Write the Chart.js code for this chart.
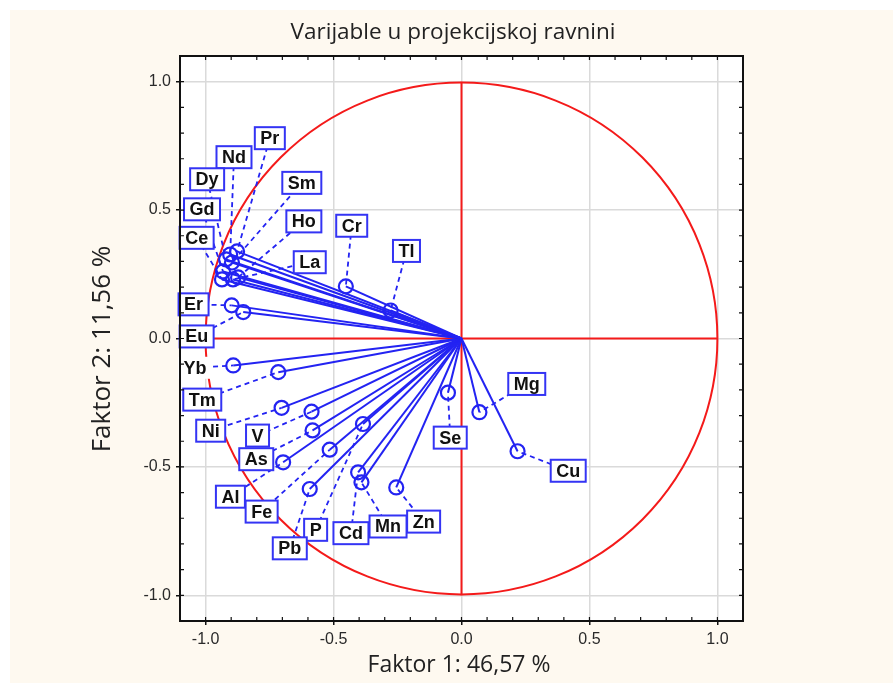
<!DOCTYPE html>
<html>
<head>
<meta charset="utf-8">
<script src="https://cdn.jsdelivr.net/npm/chart.js@4.4.1/dist/chart.umd.min.js"></script>
<style>
  html, body { margin:0; padding:0; background:#ffffff; }
  #wrap { position:absolute; left:0; top:0; width:893px; height:683px; background:#ffffff; }
  #bg { position:absolute; left:10px; top:10px; width:883px; height:673px; background:#fef9f0; }
  canvas { position:absolute; left:0; top:0; }
</style>
</head>
<body>
<div id="wrap"><div id="bg"></div><canvas id="c" width="893" height="683"></canvas></div>
<script>
// ---- data ----
const variables = ['Pr','Nd','Dy','Sm','Gd','Ce','Ho','La','Cr','Tl','Er','Eu','Yb','Tm','Ni','V','As','Fe','Al','P','Pb','Cd','Mn','Zn','Se','Mg','Cu'];
const factor1 = [-0.877,-0.904,-0.920,-0.897,-0.932,-0.936,-0.873,-0.893,-0.452,-0.277,-0.898,-0.853,-0.892,-0.716,-0.703,-0.586,-0.582,-0.515,-0.697,-0.385,-0.593,-0.404,-0.391,-0.255,-0.053,0.070,0.219];
const factor2 = [0.339,0.327,0.308,0.296,0.261,0.230,0.238,0.230,0.203,0.109,0.129,0.103,-0.105,-0.131,-0.270,-0.285,-0.358,-0.433,-0.482,-0.333,-0.586,-0.521,-0.560,-0.580,-0.211,-0.287,-0.439];
// label anchor positions, in factor units
const labelF1 = [-0.749,-0.889,-0.994,-0.624,-1.014,-1.035,-0.616,-0.593,-0.429,-0.215,-1.047,-1.035,-1.041,-1.013,-0.980,-0.797,-0.802,-0.781,-0.903,-0.570,-0.671,-0.432,-0.287,-0.148,-0.044,0.255,0.417];
const labelF2 = [0.780,0.706,0.620,0.606,0.503,0.392,0.456,0.297,0.439,0.341,0.133,0.008,-0.114,-0.238,-0.359,-0.378,-0.470,-0.674,-0.616,-0.745,-0.817,-0.758,-0.732,-0.713,-0.386,-0.177,-0.515];
const unboxedLabels = ['Yb'];
const tickValues = [-1.0,-0.5,0.0,0.5,1.0];
const tickLabels = ['-1.0','-0.5','0.0','0.5','1.0'];
const titleText = 'Varijable u projekcijskoj ravnini';
const xTitle = 'Faktor 1: 46,57 %';
const yTitle = 'Faktor 2: 11,56 %';

const BLUE = '#2323f2';
const RED = '#f41a1a';

const datasets = [];
// red reference axes
datasets.push({data:[{x:-1,y:0},{x:1,y:0}], showLine:true, borderColor:RED, borderWidth:2, pointRadius:0, order:20});
datasets.push({data:[{x:0,y:-1},{x:0,y:1}], showLine:true, borderColor:RED, borderWidth:2, pointRadius:0, order:20});
// dashed leader lines
variables.forEach((v,i)=>{
  datasets.push({data:[{x:labelF1[i],y:labelF2[i]},{x:factor1[i],y:factor2[i]}], showLine:true, borderColor:BLUE, borderWidth:1.8, borderDash:[5,4], pointRadius:0, order:10});
});
// vectors
variables.forEach((v,i)=>{
  datasets.push({data:[{x:0,y:0},{x:factor1[i],y:factor2[i]}], showLine:true, borderColor:BLUE, borderWidth:2, pointRadius:0, order:5});
});
// circles
datasets.push({data:variables.map((v,i)=>({x:factor1[i],y:factor2[i]})), showLine:false, pointRadius:7, pointBorderWidth:2.2, pointBorderColor:BLUE, pointBackgroundColor:'rgba(0,0,0,0)', order:1});

const decor = {
  id:'decor',
  beforeDraw(chart){
    const {ctx, chartArea:a} = chart;
    ctx.save();
    ctx.fillStyle = '#ffffff';
    ctx.fillRect(a.left, a.top, a.right-a.left, a.bottom-a.top);
    ctx.restore();
  },
  beforeDatasetsDraw(chart){
    const {ctx, scales:{x,y}} = chart;
    const cx = x.getPixelForValue(0), cy = y.getPixelForValue(0);
    const r = x.getPixelForValue(1) - cx;
    ctx.save();
    ctx.beginPath();
    ctx.arc(cx, cy, r, 0, Math.PI*2);
    ctx.strokeStyle = RED; ctx.lineWidth = 2; ctx.stroke();
    ctx.restore();
  },
  afterDatasetsDraw(chart){
    const {ctx, scales:{x,y}, chartArea:a} = chart;
    ctx.save();
    ctx.font = 'bold 18px "Liberation Sans", Arial, sans-serif';
    ctx.textAlign = 'center'; ctx.textBaseline = 'middle';
    variables.forEach((v,i)=>{
      const px = x.getPixelForValue(labelF1[i]), py = y.getPixelForValue(labelF2[i]);
      const w = ctx.measureText(v).width + 11, h = 22;
      ctx.fillStyle = '#ffffff';
      ctx.fillRect(px-w/2, py-h/2, w, h);
      if (!unboxedLabels.includes(v)) {
        ctx.strokeStyle = '#3434f4'; ctx.lineWidth = 2;
        ctx.strokeRect(px-w/2, py-h/2, w, h);
      }
      ctx.fillStyle = '#111111';
      ctx.fillText(v, px, py+1);
    });
    // frame
    ctx.strokeStyle = '#111'; ctx.lineWidth = 2;
    ctx.strokeRect(a.left, a.top, a.right-a.left, a.bottom-a.top);
    // minor inward ticks
    ctx.lineWidth = 1.2;
    for (let k=-11;k<=11;k++){
      const v = k/10;
      const px = x.getPixelForValue(v), py = y.getPixelForValue(v);
      ctx.beginPath();
      ctx.moveTo(px, a.top); ctx.lineTo(px, a.top+4);
      ctx.moveTo(px, a.bottom); ctx.lineTo(px, a.bottom-4);
      ctx.moveTo(a.left, py); ctx.lineTo(a.left+4, py);
      ctx.moveTo(a.right, py); ctx.lineTo(a.right-4, py);
      ctx.stroke();
    }
    ctx.restore();
  },
  afterDraw(chart){
    const {ctx, chartArea:a} = chart;
    ctx.save();
    ctx.fillStyle = '#222222';
    ctx.textAlign = 'center'; ctx.textBaseline = 'middle';
    ctx.font = '22.5px "Open Sans", sans-serif';
    ctx.fillText(titleText, 453, 33);
    ctx.font = '23px "Open Sans", sans-serif';
    ctx.fillText(xTitle, 459, 665);
    ctx.translate(103, 349);
    ctx.rotate(-Math.PI/2);
    ctx.font = '26px "Open Sans", sans-serif';
    ctx.fillText(yTitle, 0, 0);
    ctx.restore();
  }
};

const axisCommon = {
  type:'linear', min:-1.1, max:1.1,
  afterBuildTicks:s=>{ s.ticks = tickValues.map(v=>({value:v})); },
  grid:{color:'#dadada', lineWidth:1.5, tickLength:4, tickColor:'#111', tickWidth:1.5},
  border:{display:false},
  ticks:{color:'#2a2a2a', font:{family:'"Liberation Sans", Arial, sans-serif', size:16}, padding:5,
         callback:(val)=>{ const i = tickValues.indexOf(val); return i>=0 ? tickLabels[i] : ''; }}
};

new Chart(document.getElementById('c'), {
  type:'scatter',
  data:{datasets},
  plugins:[decor],
  options:{
    responsive:false, animation:false, devicePixelRatio:1,
    layout:{padding:{left:0, top:56, right:150, bottom:0}},
    plugins:{legend:{display:false}, tooltip:{enabled:false}, title:{display:false}},
    scales:{
      x:Object.assign({}, axisCommon, {afterFit:s=>{ s.height = 62; }}),
      y:Object.assign({}, axisCommon, {afterFit:s=>{ s.width = 180; }})
    }
  }
});
</script>
</body>
</html>
